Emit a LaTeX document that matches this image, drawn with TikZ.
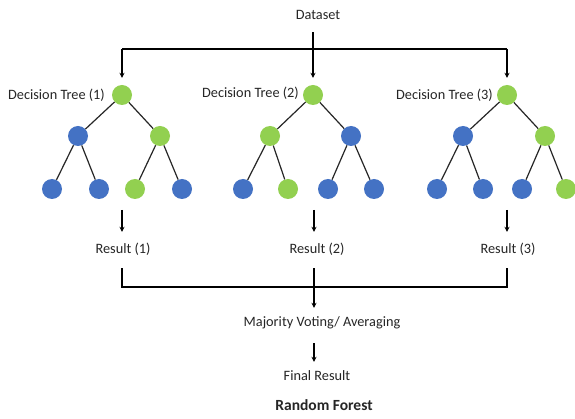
\documentclass[tikz,border=0pt]{standalone}
\usepackage{fontspec}
\setmainfont{Carlito}
\usetikzlibrary{arrows.meta}
\definecolor{leafgreen}{HTML}{92D050}
\definecolor{leafblue}{HTML}{4472C4}
\definecolor{ink}{HTML}{262626}
\tikzset{
  lbl/.style={inner sep=0pt, text height=10pt, text depth=3pt, text=ink,
              font=\fontsize{14.3}{16}\selectfont},
  gnode/.style={circle, fill=leafgreen, minimum size=20pt, inner sep=0pt},
  bnode/.style={circle, fill=leafblue, minimum size=20pt, inner sep=0pt},
  conn/.style={line width=1.4pt, draw=black},
  arrowconn/.style={conn, -{Stealth[length=5pt,width=5pt]}},
  edge/.style={line width=1.2pt, draw=ink}
}
\begin{document}
\begin{tikzpicture}[x=1pt,y=-1pt]
\useasboundingbox[fill=white] (0,0) rectangle (575,419);

% source and distribution bus
\node[lbl] (data) at (318,16) {Dataset};
\coordinate (b1) at (122,49);
\coordinate (b2) at (313,49);
\coordinate (b3) at (507,49);

% tree 1
\node[gnode] (t1r) at (122,95) {};
\node[bnode] (t1a) at (78,136) {};
\node[gnode] (t1b) at (160,136) {};
\node[bnode] (t1aa) at (52,189) {};
\node[bnode] (t1ab) at (99,189) {};
\node[gnode] (t1ba) at (135,189) {};
\node[bnode] (t1bb) at (182,189) {};
\node[lbl, anchor=east] (l1) at (105,96) {Decision Tree (1)};

% tree 2
\node[gnode] (t2r) at (313,95) {};
\node[gnode] (t2a) at (270,136) {};
\node[bnode] (t2b) at (351,136) {};
\node[bnode] (t2aa) at (243,189) {};
\node[gnode] (t2ab) at (288,189) {};
\node[bnode] (t2ba) at (328,189) {};
\node[bnode] (t2bb) at (374,189) {};
\node[lbl, anchor=east] (l2) at (299,94) {Decision Tree (2)};

% tree 3
\node[gnode] (t3r) at (507,95) {};
\node[bnode] (t3a) at (463,136) {};
\node[gnode] (t3b) at (545,136) {};
\node[bnode] (t3aa) at (437,189) {};
\node[bnode] (t3ab) at (483,189) {};
\node[bnode] (t3ba) at (522,189) {};
\node[gnode] (t3bb) at (566,189) {};
\node[lbl, anchor=east] (l3) at (493,96) {Decision Tree (3)};

% tree edges
\foreach \t in {1,2,3}{
  \draw[edge] (t\t r) -- (t\t a);
  \draw[edge] (t\t r) -- (t\t b);
  \draw[edge] (t\t a) -- (t\t aa);
  \draw[edge] (t\t a) -- (t\t ab);
  \draw[edge] (t\t b) -- (t\t ba);
  \draw[edge] (t\t b) -- (t\t bb);
}

% results and aggregation
\node[lbl] (res1) at (123,250) {Result (1)};
\node[lbl] (res2) at (317,250) {Result (2)};
\node[lbl] (res3) at (508,250) {Result (3)};
\node[lbl] (vote) at (322,323) {Majority Voting/ Averaging};
\node[lbl] (final) at (317,377) {Final Result};
\node[lbl, font=\fontsize{15.5}{18}\selectfont\bfseries] (title) at (324,407) {Random Forest};

\coordinate (m1) at (122,287);
\coordinate (m2) at (314,287);
\coordinate (m3) at (507,287);

% dataset to trees
\draw[conn] ([yshift=-9.5pt]data.south -| b2) -- (b2);
\draw[conn] (b1) -- (b3);
\foreach \t in {1,2,3}{
  \draw[arrowconn] (b\t) -- ([yshift=7pt]t\t r.north);
}

% trees to results
\draw[arrowconn] (122,210) -- ([yshift=11.5pt]res1.north -| t1r);
\draw[arrowconn] (314,210) -- ([yshift=11.5pt]res2.north -| m2);
\draw[arrowconn] (507,210) -- ([yshift=11.5pt]res3.north -| t3r);

% results to vote
\draw[conn] ([yshift=-11.5pt]res1.south -| m1) -- (m1) -- (m3) -- ([yshift=-11.5pt]res3.south -| m3);
\draw[arrowconn] ([yshift=-11.5pt]res2.south -| m2) -- ([yshift=8.5pt]vote.north -| m2);
\draw[arrowconn] ([yshift=-13.5pt]vote.south -| m2) -- ([yshift=8.5pt]final.north -| m2);
\end{tikzpicture}
\end{document}
